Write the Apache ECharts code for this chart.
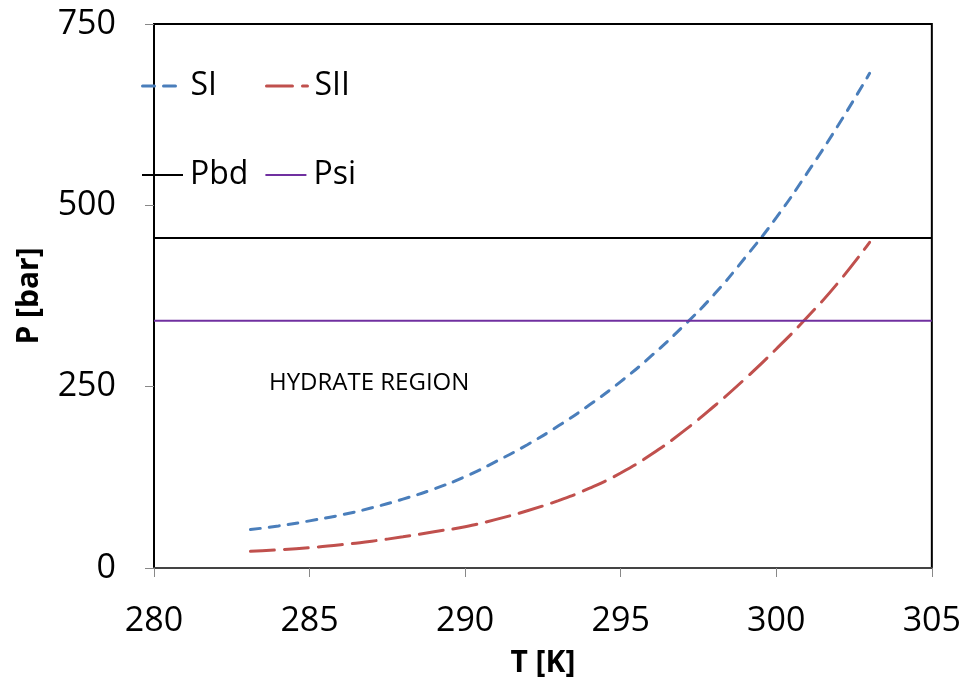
<!DOCTYPE html>
<html><head><meta charset="utf-8">
<script src="https://cdn.jsdelivr.net/npm/echarts@6/dist/echarts.min.js"></script>
<style>html,body{margin:0;padding:0;background:#fff}#c{width:964px;height:686px}</style>
</head><body><div id="c"></div>
<script>
const T_SI  = [283.1, 284, 285, 286, 287, 288, 289, 290, 291, 292, 293, 294, 295, 296, 297, 298, 299, 300, 301, 302, 303];
const P_SI  = [53, 58, 65, 73, 83, 95, 109, 126, 147, 170, 196, 225, 257, 293, 333, 377, 428, 483, 545, 611, 682];
const T_SII = [283.1, 284, 285, 286, 287, 288, 289, 290, 291, 292, 293, 294, 295, 296, 297, 298, 299, 300, 301, 302, 303];
const P_SII = [23, 25, 28, 32, 37, 43, 50, 57, 67, 79, 93, 110, 131, 157, 188, 223, 261, 302, 346, 394, 449];
const T_RANGE = [280, 305];
const P_BD = 455;
const P_SIP = 341;
const xTicks = [280, 285, 290, 295, 300, 305];
const yTicks = [0, 250, 500, 750];

const zip = (a, b) => a.map((v, i) => [v, b[i]]);
const FONT = 'Open Sans';
const legendCommon = { itemWidth: 41, itemHeight: 4, itemStyle: { opacity: 0 },
  textStyle: { fontFamily: FONT, fontSize: 32, color: '#000', padding: [0, 0, 0, 2] } };
const chart = echarts.init(document.getElementById('c'));
chart.setOption({
  animation: false,
  backgroundColor: '#fff',
  grid: { left: 154, right: 32, top: 24, bottom: 118, show: true, borderColor: '#000', borderWidth: 2, backgroundColor: 'transparent' },
  xAxis: {
    type: 'value', min: xTicks[0], max: xTicks[xTicks.length - 1], interval: 5,
    name: 'T [K]', nameLocation: 'middle', nameGap: 80,
    nameTextStyle: { fontFamily: FONT, fontSize: 30, fontWeight: 'bold', color: '#000' },
    axisLine: { lineStyle: { color: '#444', width: 2 } },
    axisTick: { show: true, length: 9, lineStyle: { color: '#888', width: 1 } },
    axisLabel: { fontFamily: FONT, fontSize: 34, color: '#000', margin: 36 },
    splitLine: { show: false }
  },
  yAxis: {
    type: 'value', min: yTicks[0], max: yTicks[yTicks.length - 1], interval: 250,
    name: 'P [bar]', nameLocation: 'middle', nameGap: 110, nameRotate: 90,
    nameTextStyle: { fontFamily: FONT, fontSize: 30, fontWeight: 'bold', color: '#000' },
    axisLine: { show: true, lineStyle: { color: '#000', width: 2 } },
    axisTick: { show: true, length: 9, lineStyle: { color: '#888', width: 1 } },
    axisLabel: { fontFamily: FONT, fontSize: 34, color: '#000', margin: 38 },
    splitLine: { show: false }
  },
  legend: [
    Object.assign({ data: [
        { name: 'SI', lineStyle: { width: 3, type: [12, 9], color: '#4A7EBB' } },
        { name: 'SII', lineStyle: { width: 3, type: [26, 10], color: '#C0504D' } }
      ], left: 136, top: 65, itemGap: 48 }, legendCommon),
    Object.assign({ data: [
        { name: 'Pbd', lineStyle: { width: 2, color: '#000' } },
        { name: 'Psi', lineStyle: { width: 2, color: '#7030A0' } }
      ], left: 136, top: 154, itemGap: 16 }, legendCommon)
  ],
  graphic: [
    { type: 'text', left: 269, top: 371, style: { text: 'HYDRATE REGION', fontFamily: FONT, fontSize: 24, fill: '#000' } }
  ],
  series: [
    { name: 'SI', type: 'line', data: zip(T_SI, P_SI), smooth: true, showSymbol: false, symbol: 'none',
      lineStyle: { color: '#4A7EBB', width: 3, type: [10, 9], cap: 'round' }, itemStyle: { color: '#4A7EBB' } },
    { name: 'SII', type: 'line', data: zip(T_SII, P_SII), smooth: true, showSymbol: false, symbol: 'none',
      lineStyle: { color: '#C0504D', width: 3, type: [24, 10], cap: 'round' }, itemStyle: { color: '#C0504D' } },
    { name: 'Pbd', type: 'line', data: [[T_RANGE[0], P_BD], [T_RANGE[1], P_BD]], showSymbol: false, symbol: 'none',
      lineStyle: { color: '#000', width: 2 }, itemStyle: { color: '#000' } },
    { name: 'Psi', type: 'line', data: [[T_RANGE[0], P_SIP], [T_RANGE[1], P_SIP]], showSymbol: false, symbol: 'none',
      lineStyle: { color: '#7030A0', width: 2 }, itemStyle: { color: '#7030A0' } }
  ]
});
</script></body></html>
